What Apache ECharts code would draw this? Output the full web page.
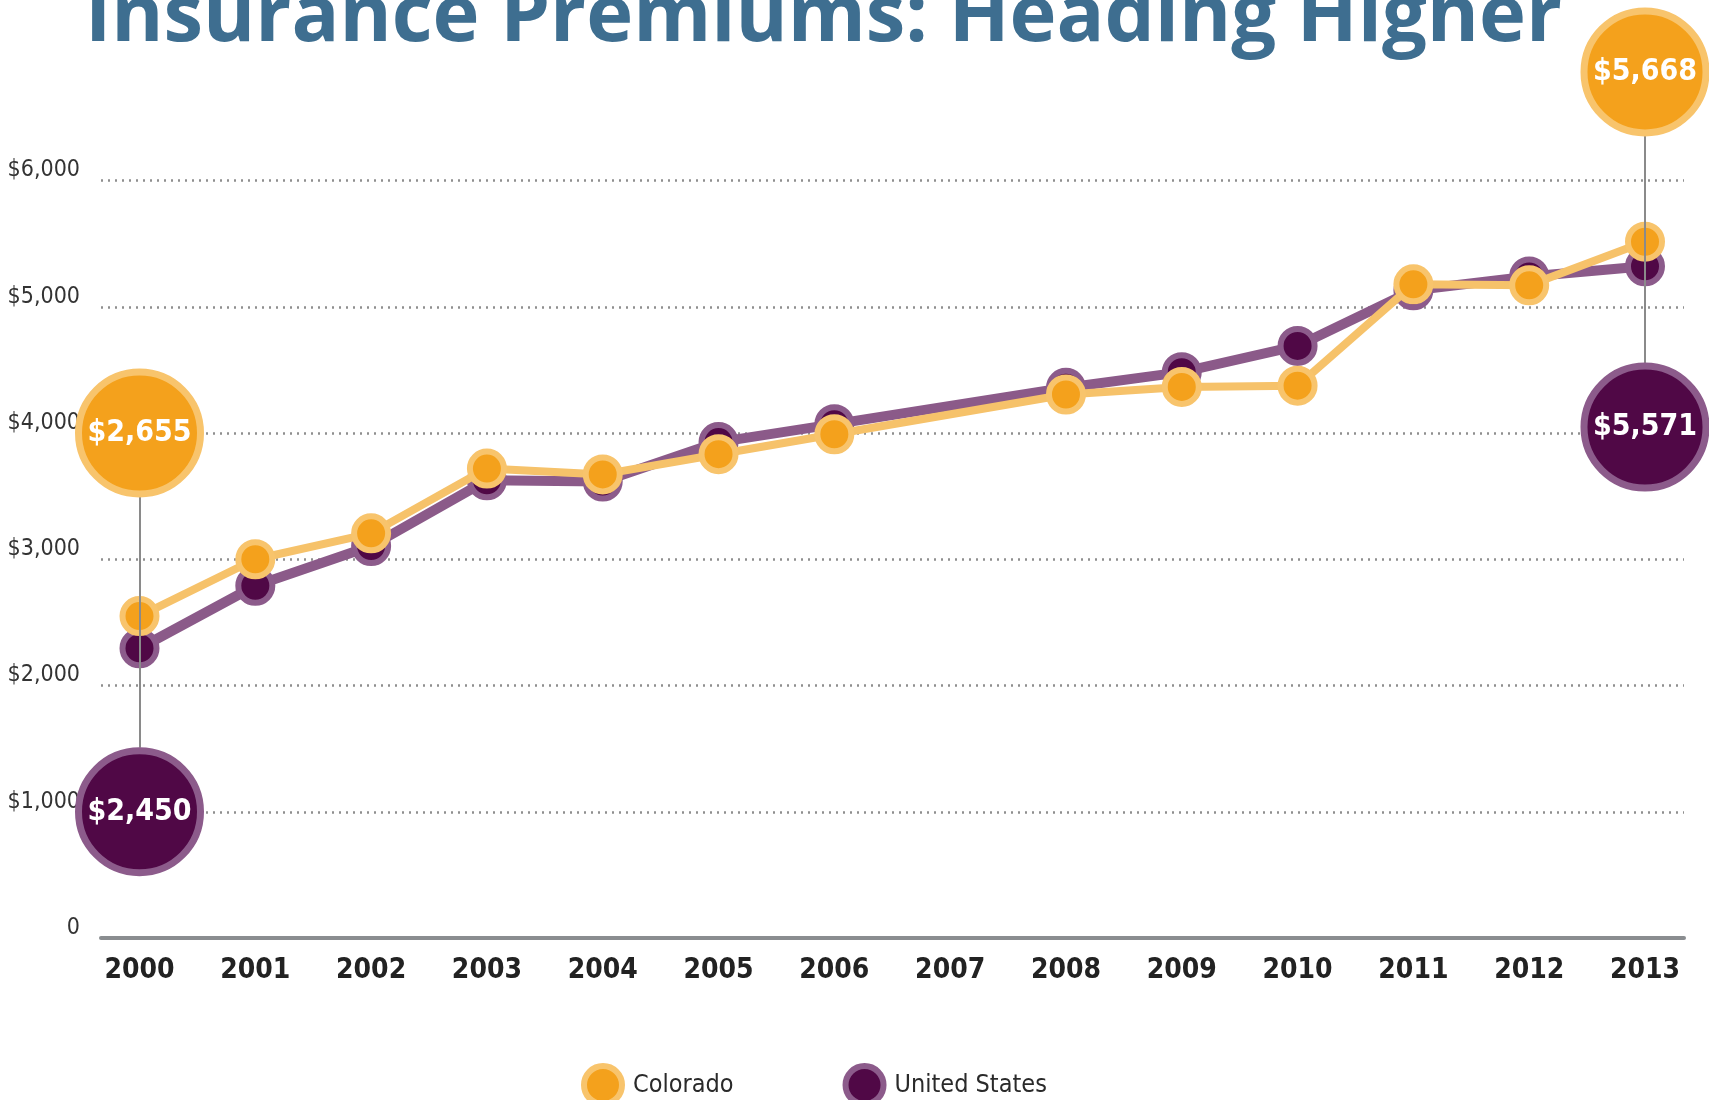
<!DOCTYPE html>
<html><head><meta charset="utf-8">
<script src="https://cdn.jsdelivr.net/npm/echarts@6/dist/echarts.min.js"></script>
<style>html,body{margin:0;padding:0;background:#fff}#c{width:1709px;height:1100px}</style>
</head><body><div id="c"></div>
<script>
// ---- data ----
const years = ['2000','2001','2002','2003','2004','2005','2006','2007','2008','2009','2010','2011','2012','2013'];
const coloradoPremiums = [2550, 3000, 3205, 3718, 3672, 3832, 3990, null, 4305, 4365, 4375, 5178, 5170, 5515];
const usPremiums       = [2295, 2790, 3105, 3625, 3615, 3928, 4070, null, 4358, 4482, 4690, 5130, 5240, 5320];
const yTicks = [0, 1000, 2000, 3000, 4000, 5000, 6000];
const calloutYears = ['2000', '2013'];
const coloradoCallouts = [2655, 5668];
const usCallouts = [2450, 5571];
const seriesNames = ['Colorado', 'United States'];

// ---- styles ----
const NARROW = "'DejaVu Sans Condensed', 'Liberation Sans Narrow', sans-serif";
const OR_FILL = '#f4a11c', OR_RING = '#f8c46c', OR_LINE = '#f6c26a';
const PU_FILL = '#500846', PU_RING = '#8c5b8b', PU_LINE = '#8b5a89';

// layout positions of callout bubbles (value units on the tall grid)
const coPos = [4000, 6860];
const usPos = [1000, 4047];
const R = 507; // bubble radius in value units

const fmt = v => '$' + Number(v).toLocaleString('en-US');

const chart = echarts.init(document.getElementById('c'), null, {renderer: 'canvas'});
const option = {
  animation: false,
  backgroundColor: '#ffffff',
  title: {
    text: 'Insurance Premiums: Heading Higher',
    left: 80, top: -27,
    textStyle: {fontFamily: "'Open Sans', sans-serif", fontWeight: 'bold', fontSize: 79.5, color: '#3e6e90'}
  },
  legend: {
    data: [
      {name: 'Colorado', itemStyle: {color: OR_FILL, borderColor: OR_RING, borderWidth: 6}},
      {name: 'United States', itemStyle: {color: PU_FILL, borderColor: PU_RING, borderWidth: 6}}
    ],
    icon: 'circle', itemWidth: 38, itemHeight: 38, itemGap: 109,
    left: 576, top: 1058,
    textStyle: {fontFamily: NARROW, fontSize: 25, color: '#2a2a2a', padding: [0, 0, 0, 6]},
    selectedMode: false
  },
  grid: [
    {left: 101, right: 25, top: 180.5, bottom: 162},
    {left: 139.5, right: 64, top: 3.75, bottom: 162}
  ],
  xAxis: [
    {gridIndex: 0, type: 'category', data: years, boundaryGap: true,
     axisLine: {show: true, lineStyle: {color: '#8a8d90', width: 4}},
     axisTick: {show: false}, axisLabel: {show: false}, splitLine: {show: false}},
    {gridIndex: 1, type: 'category', data: years, boundaryGap: false,
     axisLine: {show: false}, axisTick: {show: false}, splitLine: {show: false},
     axisLabel: {show: true, interval: 0, margin: 19, fontFamily: NARROW, fontWeight: 'bold', fontSize: 28, color: '#222'}}
  ],
  yAxis: [
    {gridIndex: 0, type: 'value', min: yTicks[0], max: yTicks[yTicks.length - 1], interval: yTicks[1] - yTicks[0],
     axisLine: {show: false}, axisTick: {show: false},
     splitLine: {show: true, lineStyle: {color: '#8f8f8f', width: 2.5, type: [2, 5]}},
     axisLabel: {margin: 21, fontFamily: NARROW, fontSize: 23, color: '#333',
                 verticalAlign: 'bottom', lineHeight: 20,
                 formatter: v => v === 0 ? '0' : fmt(v)}},
    {gridIndex: 1, type: 'value', min: 0, max: 7400, show: false, splitLine: {show: false}}
  ],
  series: [
    {
      name: 'connectors', type: 'line', xAxisIndex: 1, yAxisIndex: 1, data: [], z: 1, silent: true,
      markLine: {
        silent: true, symbol: 'none', animation: false,
        lineStyle: {color: '#8a8a8a', width: 2, type: 'solid'},
        label: {show: false},
        data: calloutYears.map((yr, i) => [
          {coord: [yr, coPos[i] - R]}, {coord: [yr, usPos[i] + R]}
        ])
      }
    },
    {
      name: seriesNames[1], type: 'line', xAxisIndex: 1, yAxisIndex: 1, data: usPremiums,
      connectNulls: true, z: 3, silent: true,
      lineStyle: {color: PU_LINE, width: 10},
      symbol: 'circle', symbolSize: 34, showSymbol: true,
      itemStyle: {color: PU_FILL, borderColor: PU_RING, borderWidth: 6},
      emphasis: {disabled: true},
      markPoint: {
        silent: true, symbol: 'circle', symbolSize: 122, animation: false,
        itemStyle: {color: PU_FILL, borderColor: PU_RING, borderWidth: 7},
        label: {show: true, position: 'inside', formatter: p => fmt(p.value),
                fontFamily: NARROW, fontWeight: 'bold', fontSize: 30, color: '#ffffff'},
        data: calloutYears.map((yr, i) => ({coord: [yr, usPos[i]], value: usCallouts[i]}))
      }
    },
    {
      name: seriesNames[0], type: 'line', xAxisIndex: 1, yAxisIndex: 1, data: coloradoPremiums,
      connectNulls: true, z: 4, silent: true,
      lineStyle: {color: OR_LINE, width: 8},
      symbol: 'circle', symbolSize: 34, showSymbol: true,
      itemStyle: {color: OR_FILL, borderColor: OR_RING, borderWidth: 6},
      emphasis: {disabled: true},
      markPoint: {
        silent: true, symbol: 'circle', symbolSize: 122, animation: false,
        itemStyle: {color: OR_FILL, borderColor: OR_RING, borderWidth: 7},
        label: {show: true, position: 'inside', formatter: p => fmt(p.value),
                fontFamily: NARROW, fontWeight: 'bold', fontSize: 30, color: '#ffffff'},
        data: calloutYears.map((yr, i) => ({coord: [yr, coPos[i]], value: coloradoCallouts[i]}))
      }
    }
  ]
};
chart.setOption(option);
</script>
</body></html>
